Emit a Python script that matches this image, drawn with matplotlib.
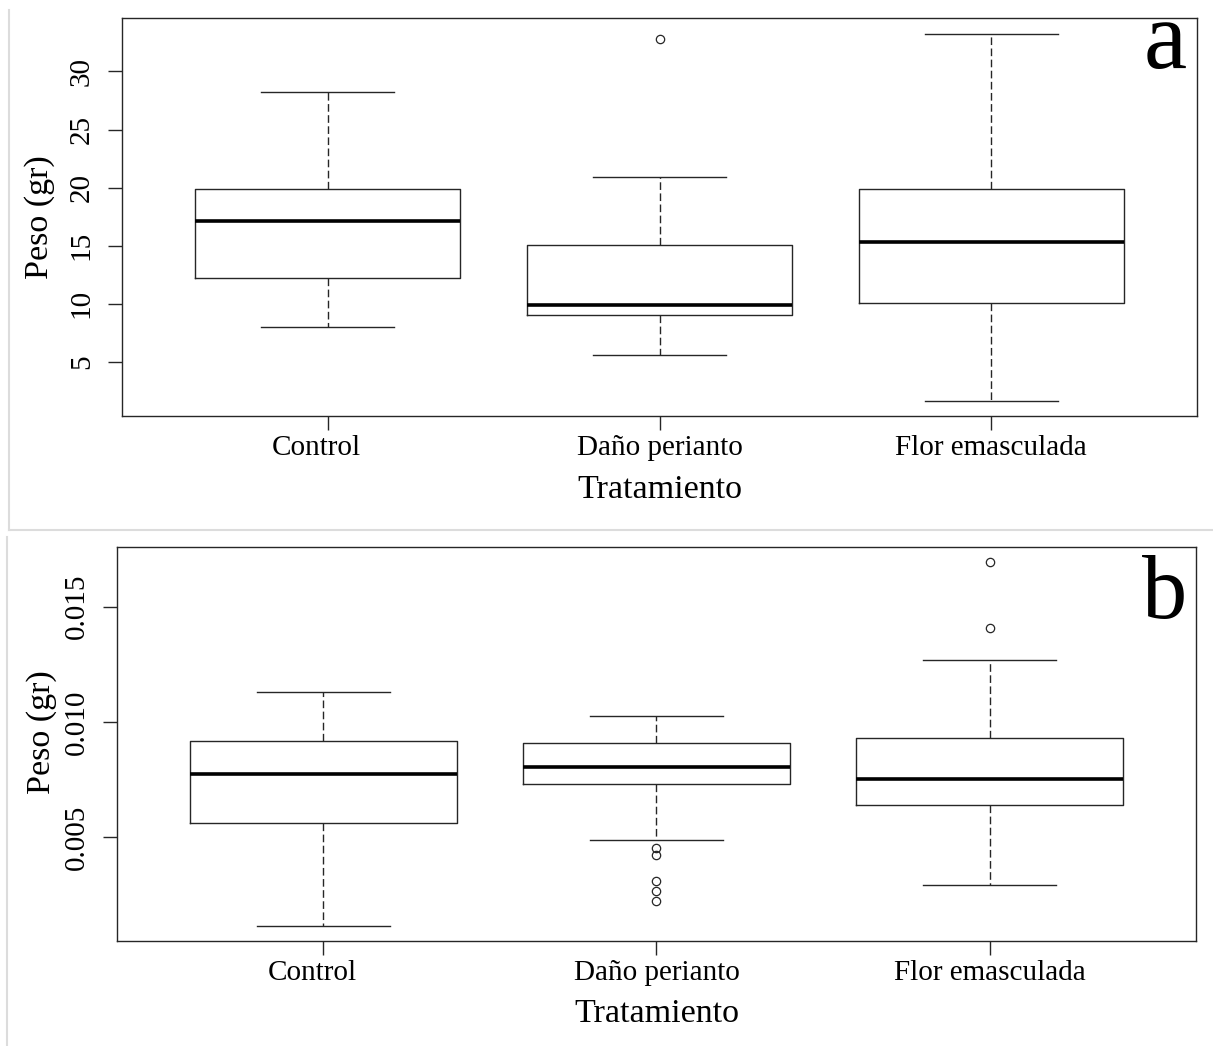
import matplotlib
matplotlib.use("Agg")
import matplotlib.pyplot as plt
import matplotlib.transforms as mtransforms
from matplotlib.lines import Line2D

plt.rcParams['font.family'] = ['Liberation Serif', 'DejaVu Serif']

# Categories
groups = ['Control', 'Daño perianto', 'Flor emasculada']
label_shift = [-0.035, 0.0, 0.0]   # the Control label sits a little left of its tick

# Panel a: box statistics
a_whislo = [8.02, 5.6, 1.64]
a_q1 = [12.2, 9.05, 10.09]
a_med = [17.1, 9.91, 15.3]
a_q3 = [19.9, 15.09, 19.9]
a_whishi = [28.19, 20.95, 33.19]
a_fliers = [[], [32.76], []]

# Panel b
b_whislo = [0.00113, 0.00487, 0.00291]
b_q1 = [0.00561, 0.0073, 0.00639]
b_med = [0.00774, 0.00804, 0.00752]
b_q3 = [0.00917, 0.00909, 0.0093]
b_whishi = [0.0113, 0.01026, 0.0127]
b_fliers = [[], [0.00452, 0.00422, 0.00309, 0.00265, 0.00222], [0.01696, 0.01409]]

a_ticks = [5, 10, 15, 20, 25, 30]
a_ticklabels = ['5', '10', '15', '20', '25', '30']
b_ticks = [0.005, 0.010, 0.015]
b_ticklabels = ['0.005', '0.010', '0.015']

W, H = 1213, 1046
fig = plt.figure(figsize=(W / 100, H / 100), dpi=100)
line_col = '#262626'


def draw_panel(rect, lo, q1, med, q3, hi, fliers, ylim, ticks, ticklabels, letter, letter_y, letter_size):
    ax = fig.add_axes(rect)
    stats = []
    for i, g in enumerate(groups):
        stats.append(dict(label=g, whislo=lo[i], q1=q1[i], med=med[i], q3=q3[i],
                          whishi=hi[i], fliers=fliers[i]))
    pos = [1, 2, 3]
    ax.bxp(stats, positions=pos, widths=0.8, capwidths=0.4,
           boxprops=dict(color=line_col, linewidth=1.0),
           medianprops=dict(color='black', linewidth=2.6, solid_capstyle='butt'),
           whiskerprops=dict(color=line_col, linewidth=1.0, linestyle=(0, (5.5, 2.5))),
           capprops=dict(color=line_col, linewidth=1.0),
           flierprops=dict(marker='o', markerfacecolor='none', markeredgecolor=line_col,
                           markersize=6, markeredgewidth=0.9))
    ax.set_xlim(0.38, 3.62)
    ax.set_ylim(*ylim)
    ax.set_yticks(ticks)
    ax.set_yticklabels(ticklabels)
    ax.set_xticks(pos)
    ax.set_xticklabels([])
    ax.tick_params(axis='both', direction='out', length=10, width=1, color=line_col,
                   labelsize=21)
    ax.tick_params(axis='y', pad=9.5, labelrotation=90)
    for lab in ax.get_yticklabels():
        lab.set_va('center')
    # category labels, just below the tick marks
    trans = mtransforms.blended_transform_factory(ax.transData, ax.transAxes)
    trans = trans + mtransforms.ScaledTranslation(0, -19 / 100, fig.dpi_scale_trans)
    for p, g, s in zip(pos, groups, label_shift):
        ax.text(p + s, 0, g, transform=trans, ha='center', va='top', fontsize=21)
    for sp in ax.spines.values():
        sp.set_color(line_col)
        sp.set_linewidth(1.0)
    ax.set_xlabel('Tratamiento', fontsize=24.5)
    ax.set_ylabel('Peso (gr)', fontsize=24.5)
    fig.text(1187 / W, letter_y, letter, fontsize=letter_size, ha='right', va='baseline')
    return ax


ax_a = draw_panel([122 / W, 1 - 416 / H, 1075 / W, 398 / H],
                  a_whislo, a_q1, a_med, a_q3, a_whishi, a_fliers,
                  (0.35, 34.6), a_ticks, a_ticklabels, 'a', 1 - 68 / H, 70)
ax_a.yaxis.set_label_coords(-0.062, 0.5)
ax_a.xaxis.set_label_coords(0.5, -0.147)

ax_b = draw_panel([117 / W, 1 - 941 / H, 1079 / W, 394 / H],
                  b_whislo, b_q1, b_med, b_q3, b_whishi, b_fliers,
                  (0.00049, 0.01759), b_ticks, b_ticklabels, 'b', 1 - 618 / H, 65)
ax_b.yaxis.set_label_coords(-0.056, 0.53)
ax_b.xaxis.set_label_coords(0.5, -0.145)

# light frame lines left from the pasted screenshots
gray = '#dcdcdc'
fig.add_artist(Line2D([9 / W, 9 / W], [1 - 10 / H, 1 - 530 / H], transform=fig.transFigure, color=gray, lw=1.5))
fig.add_artist(Line2D([9 / W, 1], [1 - 530 / H, 1 - 530 / H], transform=fig.transFigure, color=gray, lw=1.5))
fig.add_artist(Line2D([7 / W, 7 / W], [1 - 537 / H, 0], transform=fig.transFigure, color=gray, lw=1.5))

fig.savefig('out.png', dpi=100)
